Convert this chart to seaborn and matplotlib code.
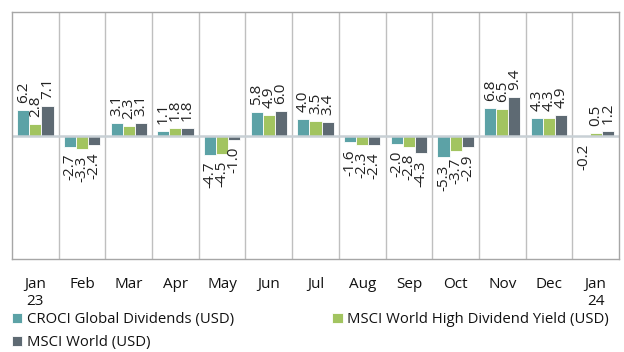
import numpy as np
import pandas as pd
import matplotlib
matplotlib.use("Agg")
import matplotlib.pyplot as plt
import seaborn as sns

months = ["Jan\n23", "Feb", "Mar", "Apr", "May", "Jun", "Jul", "Aug",
          "Sep", "Oct", "Nov", "Dec", "Jan\n24"]
series_names = ["CROCI Global Dividends (USD)",
                "MSCI World High Dividend Yield (USD)",
                "MSCI World (USD)"]
croci = [6.2, -2.7, 3.1, 1.1, -4.7, 5.8, 4.0, -1.6, -2.0, -5.3, 6.8, 4.3, -0.2]
high_div = [2.8, -3.3, 2.3, 1.8, -4.5, 4.9, 3.5, -2.3, -2.8, -3.7, 6.5, 4.3, 0.5]
world = [7.1, -2.4, 3.1, 1.8, -1.0, 6.0, 3.4, -2.4, -4.3, -2.9, 9.4, 4.9, 1.2]
colors = ["#4FADB3", "#A8D54F", "#5A6B77"]

df = pd.DataFrame({
    "month": months * 3,
    "series": np.repeat(series_names, len(months)),
    "value": croci + high_div + world,
})

sns.set_style("white")
plt.rcParams["font.family"] = ["Open Sans", "DejaVu Sans"]

fig = plt.figure(figsize=(6.24, 3.52), dpi=100)
ax = fig.add_axes([12 / 624, 1 - 259 / 352, 607 / 624, 247 / 352])

sns.barplot(data=df, x="month", y="value", hue="series", order=months,
            hue_order=series_names, palette=colors, width=0.78,
            edgecolor="white", linewidth=0.6, ax=ax, legend=True)

ax.set_ylim(-30, 30)
ax.set_xlim(-0.5, len(months) - 0.5)

# value labels, rotated, at the outer end of each bar
for cont in ax.containers:
    labels = [f"{v:.1f}" for v in cont.datavalues]
    ax.bar_label(cont, labels=labels, rotation=90, padding=5,
                 fontsize=11, color="#222222")

# vertical separators between months
for b in np.arange(0.5, len(months) - 1, 1.0):
    ax.axvline(b, color="#BFBFBF", lw=1.0, zorder=0)
ax.axhline(0, color="#C8D0D5", lw=1.8, zorder=1)

for side in ["left", "top", "right", "bottom"]:
    ax.spines[side].set_visible(True)
    ax.spines[side].set_color("#A6A6A6")
    ax.spines[side].set_linewidth(1.0)

ax.set_yticks([])
ax.set_xlabel("")
ax.set_ylabel("")
ax.tick_params(axis="x", length=0, pad=13, labelsize=11, labelcolor="#111111")

handles, labels = ax.get_legend_handles_labels()
ax.get_legend().remove()
order = [0, 2, 1]
fig.legend([handles[i] for i in order], [labels[i] for i in order],
           ncol=2, mode="expand", loc="lower left",
           bbox_to_anchor=(0.005, -0.02, 0.985, 0.14),
           frameon=False, fontsize=10.7, handlelength=0.7, handleheight=0.7,
           handletextpad=0.3, labelspacing=0.55, borderaxespad=0.2,
           labelcolor="#111111")

fig.savefig("out.png", dpi=100)
